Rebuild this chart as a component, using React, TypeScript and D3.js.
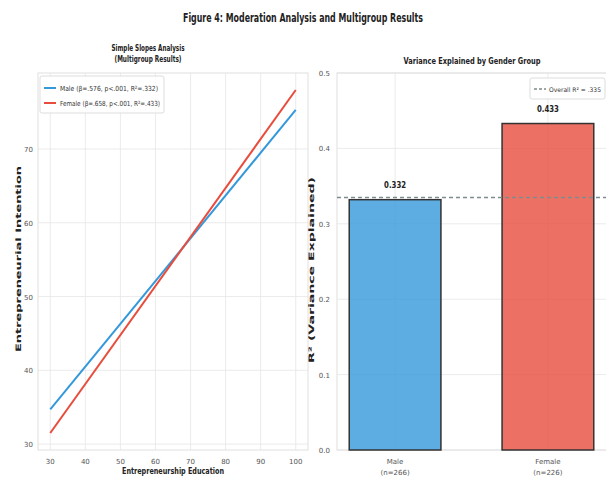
import React from "react";
import * as d3 from "d3";

// data
const eduLevels = [30, 100];
const maleIntent = [34.7, 75.3];
const femaleIntent = [31.5, 78.0];
const slopeLegend = ["Male (β=.576, p<.001, R²=.332)", "Female (β=.658, p<.001, R²=.433)"];

const groups = ["Male", "Female"];
const groupN = ["(n=266)", "(n=226)"];
const r2Values = [0.332, 0.433];
const overallR2 = 0.335;

const xTicksLeft = [30, 40, 50, 60, 70, 80, 90, 100];
const yTicksLeft = [30, 40, 50, 60, 70];
const yTicksRight = [0, 0.1, 0.2, 0.3, 0.4, 0.5];

const W = 606;
const H = 486;
const FONT = "'DejaVu Sans', 'Liberation Sans', sans-serif";
const BLUE = "#3498db";
const RED = "#e74c3c";
const GRID = "#e6e6e6";
const TICK = "#555";

const top = 73;
const bottom = 450;

// squeezed bold label, the figure's text is narrow
function Label(props: { x: number; y: number; len: number; size: number; children: React.ReactNode; rotate?: boolean }) {
  const { x, y, len, size, rotate } = props;
  return (
    <text
      transform={`translate(${x},${y})${rotate ? " rotate(-90)" : ""}`}
      textAnchor="middle"
      fontSize={size}
      fontWeight="bold"
      fill="#222"
      textLength={len}
      lengthAdjust="spacingAndGlyphs"
    >
      {props.children}
    </text>
  );
}

export default function App() {
  // left panel
  const lx = d3.scaleLinear().domain([26.5, 103.5]).range([38, 308]);
  const ly = d3.scaleLinear().domain([29.2, 80.3]).range([bottom, top]);
  const line = d3
    .line<number>()
    .x((_, i) => lx(eduLevels[i]))
    .y((d) => ly(d));

  // right panel
  const rx = d3.scaleLinear().domain([-0.38, 1.38]).range([337, 606]);
  const barW = rx(0.6) - rx(0);
  const ry = d3.scaleLinear().domain([0, 0.5]).range([bottom, top]);
  const fmt = d3.format(".1f");

  return (
    <svg width={W} height={H} style={{ position: "absolute", left: 0, top: 0, background: "#fff" }} fontFamily={FONT}>
      <rect width={W} height={H} fill="#fff" />
      <Label x={303} y={22} len={240} size={13}>
        Figure 4: Moderation Analysis and Multigroup Results
      </Label>

      {/* ---------- left: simple slopes ---------- */}
      <Label x={148} y={51} len={73} size={9}>
        Simple Slopes Analysis
      </Label>
      <Label x={148} y={62} len={67} size={9}>
        (Multigroup Results)
      </Label>
      <g>
        {xTicksLeft.map((t) => (
          <line key={"gx" + t} x1={lx(t)} x2={lx(t)} y1={top} y2={bottom} stroke={GRID} strokeWidth={0.8} />
        ))}
        {yTicksLeft.map((t) => (
          <line key={"gy" + t} x1={lx.range()[0]} x2={lx.range()[1]} y1={ly(t)} y2={ly(t)} stroke={GRID} strokeWidth={0.8} />
        ))}
        <rect x={38} y={top} width={270} height={bottom - top} fill="none" stroke="#e0e0e0" strokeWidth={1} />
        {xTicksLeft.map((t) => (
          <text key={"tx" + t} x={lx(t)} y={bottom + 14} textAnchor="middle" fontSize={7} fill={TICK}>
            {t}
          </text>
        ))}
        {yTicksLeft.map((t) => (
          <text key={"ty" + t} x={33} y={ly(t) + 3} textAnchor="end" fontSize={7} fill={TICK}>
            {t}
          </text>
        ))}
        <Label x={173} y={474} len={102} size={8.5}>
          Entrepreneurship Education
        </Label>
        <Label x={21} y={259} len={186} size={7.5} rotate>
          Entrepreneurial Intention
        </Label>
        <path d={line(maleIntent) || ""} fill="none" stroke={BLUE} strokeWidth={2} />
        <path d={line(femaleIntent) || ""} fill="none" stroke={RED} strokeWidth={2} />
        <rect x={40} y={76} width={124} height={37} fill="#fff" fillOpacity={0.85} stroke="#ddd" rx={2} />
        {slopeLegend.map((s, i) => (
          <g key={s} transform={`translate(0,${88 + i * 15})`}>
            <line x1={44} x2={56} y1={0} y2={0} stroke={i === 0 ? BLUE : RED} strokeWidth={2} />
            <text x={60} y={3} fontSize={7} fill="#333" textLength={i === 0 ? 98 : 100} lengthAdjust="spacingAndGlyphs">
              {s}
            </text>
          </g>
        ))}
      </g>

      {/* ---------- right: R² by group ---------- */}
      <Label x={472} y={64} len={137} size={9}>
        Variance Explained by Gender Group
      </Label>
      <g>
        {groups.map((g, i) => (
          <line key={"rgx" + g} x1={rx(i)} x2={rx(i)} y1={top} y2={bottom} stroke={GRID} strokeWidth={0.8} />
        ))}
        {yTicksRight.map((t) => (
          <line key={"rgy" + t} x1={337} x2={606} y1={ry(t)} y2={ry(t)} stroke={GRID} strokeWidth={0.8} />
        ))}
        <rect x={337} y={top} width={270} height={bottom - top} fill="none" stroke="#e0e0e0" strokeWidth={1} />
        {yTicksRight.map((t) => (
          <text key={"rty" + t} x={330} y={ry(t) + 3} textAnchor="end" fontSize={7} fill={TICK}>
            {fmt(t)}
          </text>
        ))}
        <Label x={314} y={270} len={186} size={7.5} rotate>
          R² (Variance Explained)
        </Label>
        {groups.map((g, i) => (
          <g key={g}>
            <rect
              x={rx(i) - barW / 2}
              y={ry(r2Values[i])}
              width={barW}
              height={ry(0) - ry(r2Values[i])}
              fill={i === 0 ? BLUE : RED}
              fillOpacity={0.8}
              stroke="#333"
              strokeWidth={1.5}
            />
            <Label x={rx(i)} y={ry(r2Values[i]) - 12} len={22} size={9}>
              {r2Values[i].toFixed(3)}
            </Label>
            <text x={rx(i)} y={bottom + 14} textAnchor="middle" fontSize={7} fill={TICK}>
              {g}
            </text>
            <text x={rx(i)} y={bottom + 25} textAnchor="middle" fontSize={7} fill={TICK}>
              {groupN[i]}
            </text>
          </g>
        ))}
        <line x1={337} x2={606} y1={ry(overallR2)} y2={ry(overallR2)} stroke="#7f8c8d" strokeWidth={1.5} strokeDasharray="4,3" />
        <rect x={530} y={78} width={75} height={21} fill="#fff" fillOpacity={0.85} stroke="#ddd" rx={2} />
        <line x1={534} x2={546} y1={89} y2={89} stroke="#7f8c8d" strokeWidth={1.5} strokeDasharray="3,2" />
        <text x={549} y={92} fontSize={6.3} fill="#333" textLength={52} lengthAdjust="spacingAndGlyphs">
          {"Overall R² = " + String(overallR2).replace(/^0/, "")}
        </text>
      </g>
    </svg>
  );
}
